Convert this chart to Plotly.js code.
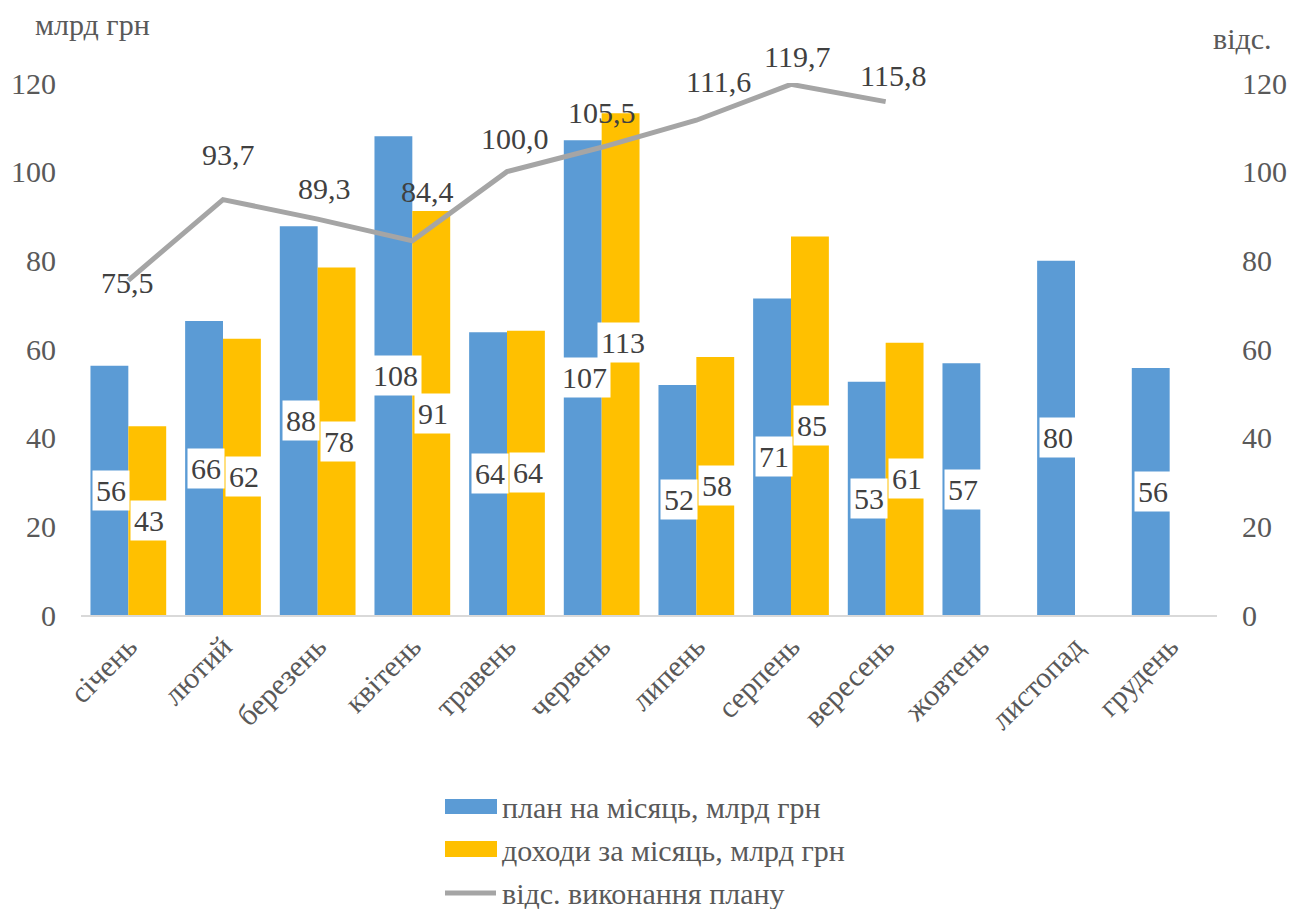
<!DOCTYPE html>
<html>
<head>
<meta charset="utf-8">
<script src="https://cdn.plot.ly/plotly-3.0.1.min.js"></script>
<style>html,body{margin:0;padding:0;background:#fff}</style>
</head>
<body>
<div id="chart"></div>
<script>
// ---- data ----
var months = ['січень','лютий','березень','квітень','травень','червень','липень','серпень','вересень','жовтень','листопад','грудень'];
var plan = [56.2, 66.3, 87.7, 108.0, 63.8, 107.1, 51.9, 71.4, 52.6, 56.8, 79.9, 55.7];
var income = [42.6, 62.3, 78.4, 91.1, 64.1, 113.2, 58.2, 85.4, 61.4, null, null, null];
var pct = [75.5, 93.7, 89.3, 84.4, 100.0, 105.5, 111.6, 119.7, 115.8, null, null, null];
var seriesNames = ['план на місяць, млрд грн', 'доходи за місяць, млрд грн', 'відс. виконання плану'];
var leftTitle = 'млрд грн';
var rightTitle = 'відс.';
var yTicks = [0, 20, 40, 60, 80, 100, 120];

// ---- style ----
var SERIF = 'Liberation Serif';
var BLUE = '#5B9BD5', YELLOW = '#FFC000', GRAY = '#A5A5A5';
var TICKC = '#595959', LABC = '#404040';
var FS = 30;
// label offsets (pixels), as positioned in the reference
var pctDx = [-1, 5, 7, 15, 8, 0, 22, 6, 7];
var pctDy = [-2, 45, 31, 49, 33, 35, 39, 28, 26];
var incomeLabelDy = [0, 0, 0, 0, 0, 22, 0, 0, 0];

var W = 1296, H = 909;
var mL = 81, mR = 79, mT = 83, mB = 294;
var pw = W - mL - mR, ph = H - mT - mB;
function px2x(p) { return (p - mL) / pw; }
function py2y(p) { return (H - mB - p) / ph; }
function fmt1(v) { return v.toFixed(1).replace('.', ','); }

var traces = [
  {type:'bar', name:seriesNames[0], x:months, y:plan, marker:{color:BLUE}, hoverinfo:'skip'},
  {type:'bar', name:seriesNames[1], x:months, y:income, marker:{color:YELLOW}, hoverinfo:'skip'},
  {type:'scatter', mode:'lines', name:seriesNames[2], x:months, y:pct, yaxis:'y2',
   line:{color:GRAY, width:5}, hoverinfo:'skip'}
];

var annotations = [];
months.forEach(function (m, i) {
  if (plan[i] != null) annotations.push({x:m, y:plan[i]/2, xref:'x', yref:'y', text:String(Math.round(plan[i])),
    showarrow:false, xshift:-17, yanchor:'middle', bgcolor:'#ffffff', borderpad:3,
    font:{family:SERIF, size:FS, color:LABC}});
});
months.forEach(function (m, i) {
  if (income[i] != null) annotations.push({x:m, y:income[i]/2, xref:'x', yref:'y', text:String(Math.round(income[i])),
    showarrow:false, xshift:21, yshift:incomeLabelDy[i] || 0, yanchor:'middle', bgcolor:'#ffffff', borderpad:3,
    font:{family:SERIF, size:FS, color:LABC}});
});
pct.forEach(function (v, i) {
  if (v == null) return;
  annotations.push({x:months[i], y:v, xref:'x', yref:'y2', text:fmt1(v), showarrow:false,
    xshift:pctDx[i], yshift:pctDy[i], yanchor:'middle',
    font:{family:SERIF, size:FS, color:LABC}});
});
annotations.push({xref:'paper', yref:'paper', x:px2x(33), y:py2y(25), xanchor:'left', yanchor:'middle',
  text:leftTitle, showarrow:false, font:{family:SERIF, size:FS, color:TICKC}});
annotations.push({xref:'paper', yref:'paper', x:px2x(1211), y:py2y(38), xanchor:'left', yanchor:'middle',
  text:rightTitle, showarrow:false, font:{family:SERIF, size:FS, color:TICKC}});

var legRows = [807, 850, 893];
var shapes = [
  {type:'rect', xref:'paper', yref:'paper', x0:px2x(445), x1:px2x(497), y0:py2y(814), y1:py2y(799), fillcolor:BLUE, line:{width:0}},
  {type:'rect', xref:'paper', yref:'paper', x0:px2x(445), x1:px2x(497), y0:py2y(857), y1:py2y(841), fillcolor:YELLOW, line:{width:0}},
  {type:'line', xref:'paper', yref:'paper', x0:px2x(445), x1:px2x(496), y0:py2y(893), y1:py2y(893), line:{color:GRAY, width:5}}
];
seriesNames.forEach(function (n, i) {
  annotations.push({xref:'paper', yref:'paper', x:px2x(500), y:py2y(legRows[i]), xanchor:'left', yanchor:'middle',
    text:n, showarrow:false, font:{family:SERIF, size:FS, color:TICKC}});
});

var layout = {
  width:W, height:H,
  margin:{l:mL, r:mR, t:mT, b:mB},
  paper_bgcolor:'#ffffff', plot_bgcolor:'#ffffff',
  showlegend:false,
  barmode:'group', bargap:0.2, bargroupgap:0,
  font:{family:SERIF, size:FS, color:TICKC},
  xaxis:{type:'category', tickangle:-45, showline:true, linecolor:'#D9D9D9', linewidth:2,
    ticks:'', showgrid:false, zeroline:false, tickfont:{family:SERIF, size:FS, color:TICKC}},
  yaxis:{range:[0,120], tickvals:yTicks, showgrid:false, zeroline:false, showline:false, ticks:'',
    tickfont:{family:SERIF, size:FS, color:TICKC}, ticklabelstandoff:24},
  yaxis2:{range:[0,120], tickvals:yTicks, overlaying:'y', side:'right', showgrid:false, zeroline:false,
    showline:false, ticks:'', tickfont:{family:SERIF, size:FS, color:TICKC}, ticklabelstandoff:24},
  annotations:annotations,
  shapes:shapes
};

Plotly.newPlot('chart', traces, layout, {displayModeBar:false, staticPlot:true});
</script>
</body>
</html>
